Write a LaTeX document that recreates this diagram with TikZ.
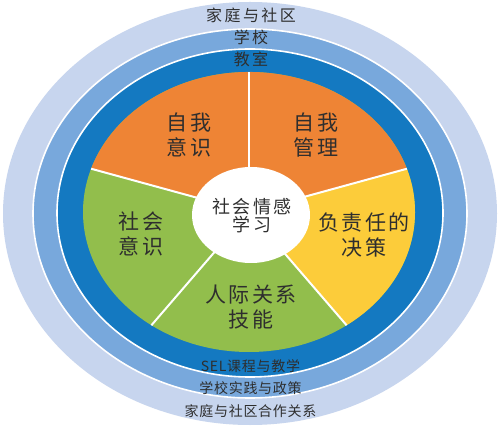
\documentclass[tikz,border=0pt]{standalone}
\usepackage{fontspec}
\setmainfont{Noto Sans CJK SC}
\newfontfamily\sptop[LetterSpace=15]{Noto Sans CJK SC}
\newfontfamily\spbot[LetterSpace=5]{Noto Sans CJK SC}
\newfontfamily\spsec[LetterSpace=10]{Noto Sans CJK SC}
\newfontfamily\spctr[LetterSpace=14]{Noto Sans CJK SC}
\begin{document}
\begin{tikzpicture}[x=1pt,y=-1pt,
  ringlight/.style={fill=lightring},
  ringmid/.style={fill=midring},
  ringdark/.style={fill=darkring},
  sep/.style={draw=white,line width=1.6pt},
  divider/.style={draw=white,line width=2pt},
  toplabel/.style={font=\sptop\fontsize{16}{18}\selectfont,text=txt,inner sep=0pt},
  botlabel/.style={font=\spbot\fontsize{14}{17}\selectfont,text=txt,inner sep=0pt},
  seclabel/.style={font=\spsec\fontsize{21}{25}\selectfont,text=txt,align=center,inner sep=0pt},
  ctrlabel/.style={font=\spctr\fontsize{18}{19}\selectfont,text=txt,align=center,inner sep=0pt}]
\definecolor{lightring}{HTML}{C7D5EE}
\definecolor{midring}{HTML}{78A8DC}
\definecolor{darkring}{HTML}{1479C1}
\definecolor{orangesec}{HTML}{EE8435}
\definecolor{greensec}{HTML}{92BE4C}
\definecolor{yellowsec}{HTML}{FCCC3A}
\definecolor{txt}{HTML}{2E2E2E}
\useasboundingbox (0,0) rectangle (500,427);
\fill[white] (0,0) rectangle (500,427);
% rings
\path[ringlight] (250,213.5) ellipse [x radius=247pt, y radius=211.5pt];
\path[ringmid,sep] (250,213.5) ellipse [x radius=217pt, y radius=184.5pt];
\path[ringdark,sep] (250,213) ellipse [x radius=193pt, y radius=164pt];
% pie
\coordinate (pc) at (249,212);
\fill[greensec] (pc) ellipse [x radius=166pt, y radius=140pt];
\fill[orangesec] (pc) -- ({249+166*cos(18)},{212-140*sin(18)}) arc[start angle=18, end angle=162, x radius=166pt, y radius=140pt] -- cycle;
\fill[yellowsec] (pc) -- ({249+166*cos(-54)},{212-140*sin(-54)}) arc[start angle=-54, end angle=18, x radius=166pt, y radius=140pt] -- cycle;
\foreach \t in {90,18,-54,-126,162}
  \draw[divider] (pc) -- ({249+166*cos(\t)},{212-140*sin(\t)});
% centre
\fill[white] (251,215) ellipse [x radius=59pt, y radius=48pt];
\node[ctrlabel] (sel) at (252,216) {社会情感\\[-1pt]学习};
% sector labels
\node[seclabel] (selfaware) at (189,135) {自我\\意识};
\node[seclabel] (selfmgmt) at (316,135) {自我\\管理};
\node[seclabel] (decision) at (364,235) {负责任的\\决策};
\node[seclabel] (relation) at (251,307) {人际关系\\技能};
\node[seclabel] (socaware) at (141,234) {社会\\意识};
% ring labels
\node[toplabel] (home) at (251,15) {家庭与社区};
\node[toplabel] (school) at (251,37.5) {学校};
\node[toplabel] (room) at (251,59) {教室};
\node[botlabel] (curr) at (250.5,366) {SEL课程与教学};
\node[botlabel] (policy) at (250.5,388) {学校实践与政策};
\node[botlabel] (partner) at (250.5,411) {家庭与社区合作关系};
\end{tikzpicture}
\end{document}
